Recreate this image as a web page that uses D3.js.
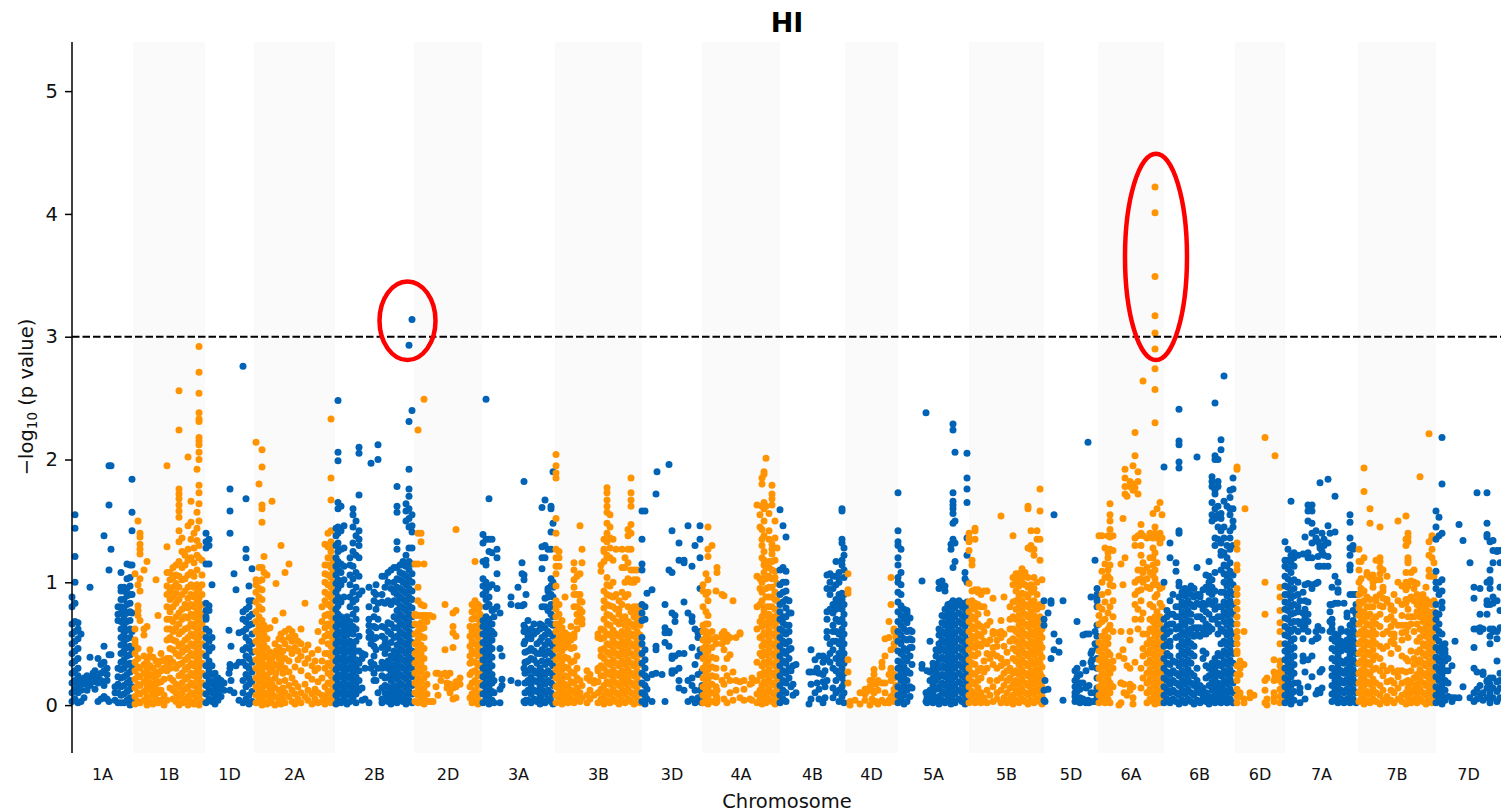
<!DOCTYPE html>
<html><head><meta charset="utf-8"><script src="https://cdnjs.cloudflare.com/ajax/libs/d3/7.8.5/d3.min.js"></script>
<style>html,body{margin:0;padding:0;background:#fff}svg{display:block}text{font-family:"DejaVu Sans",sans-serif;fill:#111}</style></head><body>
<svg id="c" width="1501" height="811"></svg>
<script>
const chromNames=["1A","1B","1D","2A","2B","2D","3A","3B","3D","4A","4B","4D","5A","5B","5D","6A","6B","6D","7A","7B","7D"];
const chromEdges=[0,61,133,182,263,342,410,483,570,630,708,773,826,897,972,1026,1092,1163,1213,1286,1364,1429];
const yTicks=[0,1,2,3,4,5];
const threshold=3;
const chr1A=[[0,[.03,.1,.18,.26,.34,.42,.5,.58,.66,.8,.88]],[3,[.05,.13,.2,.28,.36,.44,.52,.6,.68,.83,1,1.21,1.44,1.55]],[6,[.02,.1,.16,.24,.3,.38,.46,.54,.62,.67]],[9,[.03,.12,.2,.58]],[12,[.06,.17,.22]],[15,[.12,.18,.24]],[18,[.16,.22,.39,.96]],[21,[.19,.26]],[23,[.13,.21,.24,.28]],[26,[.03,.18,.22,.38]],[29,[.05,.2,.26,.33]],[32,[.07,.16,.28,.35,.48,1.38]],[35,[.05,.2,.25,.3]],[37,[.03,.41,1.1,1.63,1.95]],[39,[.41,1.27,1.95]],[43,[.04,.1,.15]],[46,[.02,.1,.17,.23,.3,.69,.74,.8]],[49,[.02,.08,.15,.22,.29,.35,.42,.49,.55,.62,.68,.75,.8,.86,.93,.96,1.08]],[52,[.02,.09,.16,.23,.3,.37,.44,.51,.58,.65,.72,.79,.86,.93,.96]],[55,[.04,.11,.18,.25,.33,.4,.47,.54,.61,.68,.75,.82,.89,.95,1.03,1.15]],[58,[0,.06,.13,.2,.27,.34,.41,.48,.55,.62,.69,.76,.83,.9,.97,1.04,1.14]],[60,[.03,.15,.3,.45,.6,.75,.9,1.14,1.42,1.57,1.84]]];
const chr1B=[[63,[.01,.07,.14,.21,.28,.35,.42,.5,.53,.62,1.07]],[66,[.03,.1,.17,.24,.31,.38,.46,.73,.77,.81,.98,1.5]],[68,[.02,.09,.16,.23,.3,.69,.93,1.03,1.23,1.27,1.31,1.37,1.4]],[72,[.04,.11,.19,.26,.33,.4,.57,.62,1.1]],[75,[0,.07,.15,.22,.29,.36,.64,1.17]],[78,[.03,.12,.18,.25,.32,.45,.4]],[81,[.01,.08,.16,.23,.3,.39]],[84,[.05,.13,.2,.27,.36,1.02]],[86,[.02,.1,.18,.25,.33,.73]],[89,[.04,.12,.19,.28,.36,.42]],[92,[.0,.08,.21,.3,.37]],[95,[.04,.28,.34,.38,.53,.62,.7,.8,.9,.97,1.08,1.29,1.95]],[98,[.14,.22,.3,.38,.46,.55,.62,.7,.76,.86,.93,1.02,1.08]],[101,[.05,.12,.2,.35,.45,.53,.6,.68,.8,.88,.96,1.04,1.12]],[104,[.03,.1,.17,.3,.42,.52,.63,.72,.83,.91,.99,1.06,1.14]],[107,[0,.07,.15,.24,.33,.4,.48,.58,.66,.75,.86,.96,1.05,1.17,1.33,1.42,1.53,1.58,1.63,1.68,1.72,1.76,2.24,2.56]],[110,[.02,.1,.18,.26,.34,.43,.5,.6,.7,.78,.9,1.02,1.12,1.25,1.36]],[113,[.05,.13,.21,.29,.37,.45,.53,.62,.72,.82,.93,1.03,1.14,1.22]],[116,[0,.07,.15,.23,.31,.39,.47,.55,.63,.71,.79,.87,.96,1.06,1.18,1.27,1.46,2.02]],[119,[.03,.1,.18,.26,.34,.42,.5,.58,.66,.74,.82,.9,.98,1.08,1.2,1.35,1.49,1.66]],[122,[.01,.08,.16,.24,.32,.4,.48,.56,.64,.72,.8,.88,.96,1.05,1.16,1.28,1.4]],[125,[.04,.12,.2,.28,.36,.44,.52,.6,.68,.76,.84,.92,.98,1.1,1.22,1.34,1.44,1.57,1.92]],[127,[0,.07,.15,.23,.31,.39,.47,.55,.63,.71,.79,.87,.95,1.2,1.3,1.5,1.64,1.73,1.79,2,2.06,2.12,2.15,2.18,2.31,2.33,2.38,2.54,2.71,2.92]],[130,[.03,.1,.18,.26,.34,.42,.5,.58,.66,.74,.82,.9,.98,1.06,1.18]]];
const chr1D=[[134,[.02,.09,.16,.24,.32,.4,.48,.55,.62,.7,.72,.77,.83,1.15,1.28,1.33,1.4]],[137,[.05,.12,.2,.28,.36,.44,.52,.6,.77,.81,1.15,1.3,1.35]],[140,[.03,.1,.17,.25,.32,.47,.55,.98]],[143,[.01,.07,.14,.2,.26]],[146,[.04,.1,.16,.22]],[149,[.07,.14,.2]],[152,[.12,.18]],[157,[.61,.26]],[158,[.33,.12,.3,1.76,1.58,1.4]],[159,[.48,.2]],[162,[.1,1.07]],[164,[.94,.32]],[167,[.04,.35,.59]],[171,[.02,.1,.2,.35,.45,.6,.7,.76,2.76]],[174,[.05,.15,.25,.32,.4,.47,.55,.62,.68,.78,1.2,1.27,1.68]],[177,[.01,.08,.17,.22,.3,.38,.46,.52,.65,.72,.8,.85,.97]],[180,[.03,.11,.19,.27,.35,.43,.5,.58,.66,.74,.85,1.11]]];
const chr2A=[[184,[.02,.08,.15,.22,.3,.37,.44,.52,.6,.68,.76,.84,.92,.98,1.02,2.14]],[187,[.04,.11,.19,.26,.33,.41,.49,.56,.64,.72,.8,.88,.95,1.01,1.12,1.8]],[190,[0,.07,.14,.22,.29,.37,.45,.53,.61,.69,.78,.86,.94,1.02,1.12,1.49,1.6,1.63,1.94,2.08]],[192,[.03,.1,.18,.25,.33,.41,.49,.57,.65,1.21,1.08]],[195,[.01,.08,.16,.23,.31,.39,.46,.54,.62,1.06]],[198,[.04,.12,.2,.27,.35,.43,.63]],[200,[.02,.09,.17,.3,.38,1.66]],[203,[0,.07,.14,.22,.33,.41,.5,.69]],[204,[.26,.99,.44]],[207,[.04,.12,.19,.3,.38,.47,.54]],[209,[.01,.09,.34,.42,.58,1.3]],[211,[.05,.14,.26,.44,.75,.53]],[213,[.02,.1,.2,.3,.38,.5,.6,1.08]],[217,[.07,.16,.27,.36,.46,.55,.62,1.15]],[220,[.03,.12,.22,.42,.52,.6]],[223,[.01,.09,.18,.31,.47,.56]],[226,[.05,.15,.37,.44,.52]],[229,[.02,.1,.28,.4,.5,.62]],[233,[.07,.17,.34,.45,.83]],[236,[.04,.12,.24,.38,.49]],[240,[.01,.09,.21,.32,.42]],[243,[.05,.13,.28,.36]],[246,[.02,.1,.19,.3,.45,.6]],[250,[.03,.08,.22,.36,.52,.68,.8]],[253,[.01,.07,.15,.3,.42,.56,.63,.73,.85,.92,1.0,1.07,1.14,1.31]],[256,[.04,.11,.18,.26,.34,.42,.5,.58,.66,.74,.82,.9,.98,1.06,1.14,1.2,1.29,1.4]],[259,[.02,.09,.17,.24,.32,.4,.48,.56,.64,.72,.8,.88,.96,1.04,1.12,1.2,1.25,1.33,1.42,1.67,1.85,2.33]],[261,[.05,.13,.21,.29,.37,.45,.53,.61,.69,.77,.85,.93,1.0,1.08,1.16,1.3]]];
const chr2B=[[264,[.01,.08,.15,.22,.29,.36,.43,.5,.57,.64,.71,.78,.85,.92,.99,1.06,1.13,1.2,1.3,1.38,1.44]],[266,[.04,.11,.18,.25,.32,.39,.46,.53,.6,.67,.74,.81,.88,.95,1.02,1.1,1.17,1.25,1.32,1.4,1.45,1.6,1.65,1.99,2.06,2.48]],[269,[.02,.09,.16,.23,.3,.37,.44,.51,.58,.65,.72,.84,.98,1.08,1.15,1.27,1.42,1.62]],[272,[.05,.12,.19,.26,.33,.4,.47,.54,.61,.68,.88,1.02,1.13,1.28,1.46]],[275,[.01,.08,.15,.22,.29,.36,.43,.5,.57,.64,.72]],[278,[.03,.1,.17,.24,.31,.38,.45,.52,.6,.68,.8,.88,.98,1.06,1.14,1.2]],[281,[.06,.13,.2,.27,.34,.41,.48,.58,.64,.74,.84,.92,1.03,1.13,1.25,1.32,1.45,1.55,1.6]],[284,[.02,.09,.16,.23,.3,.37,.44,.52,.62,.7,.78,.86,.96,1.08,1.22,1.38,1.5]],[287,[.12,.2,.28,.34,.44,.56,.9,1.05,1.2,1.3,1.35,1.42,1.71,2.05,2.1]],[290,[.04,.14,.38,.42,.93]],[293,[.05,.3,.41]],[297,[.02,.55,.6,.65,.7,.8,.96]],[299,[.3,.35,.5,.58,1.97]],[302,[.2,.26,.33,.4,.48,.54,.64,.72,.85,.92]],[304,[.2,.45,.55,.63,.78,.9,.98]],[306,[.1,.3,.7,.83,2,2.12]],[310,[.02,.05,.14,.24,.3,.35,.47,.56,.64,.84,.9,1.05]],[313,[.05,.1,.16,.22,.33,.42,.5,.54,.63,.83,.96,1.05]],[316,[.03,.09,.15,.23,.3,.36,.46,.6,.67,.85,1.0,1.08]],[319,[.01,.07,.13,.2,.27,.33,.4,.51,.58,.66,.82,.95,1.1]],[322,[.04,.1,.16,.24,.31,.38,.44,.55,.63,.72,.85,.92,1.0,1.12]],[325,[.02,.08,.14,.21,.28,.35,.42,.49,.56,.63,.7,.77,.84,.9,.96,1.03,1.12,1.27,1.33,1.57,1.62,1.78]],[328,[.05,.11,.18,.25,.32,.39,.46,.53,.6,.67,.74,.81,.88,.95,1.02,1.08,1.14]],[331,[.03,.09,.16,.23,.3,.37,.44,.51,.58,.65,.72,.79,.86,.93,1,1.07,1.14,1.17]],[334,[.01,.07,.14,.21,.28,.35,.42,.49,.56,.63,.7,.77,.84,.91,.98,1.05,1.13,1.22,1.5,1.58,1.64]],[337,[.04,.11,.18,.25,.32,.39,.46,.53,.6,.67,.74,.81,.88,.95,1.02,1.1,1.17,1.28,1.45,1.52,1.6,1.7,1.76,1.92,2.31,2.93]],[340,[.02,.09,.16,.23,.3,.37,.44,.51,.58,.65,.72,.79,.86,.93,1,1.07,1.15,1.28,1.41,1.46,1.55,2.4,3.14]]];
const chr2D=[[343,[.03,.1,.18,.26,.34,.42,.5,.58,.66,.74,.73,1.15]],[346,[.02,.08,.15,.22,.3,.38,.46,.53,.6,.65,.73,.85,.96,1.15,1.4,2.24]],[349,[.04,.11,.19,.27,.34,.42,.49,.56,.62,.67,.73,.82,1.33,1.4]],[352,[.01,.07,.14,.22,.3,.38,.46,.55,.63,.68,.73,.81,1.15,2.49]],[355,[.03,.09,.17,.25,.73,.68]],[358,[.03,.73]],[361,[.03,.72]],[364,[.15,.26]],[366,[.08,.26]],[369,[.2,.25]],[373,[.26,.45,.82]],[375,[.14,.18,.24]],[378,[.1,.17,.26]],[381,[.05,.14,.47,.59,.64,.75]],[384,[.06,.15,.19,.56,.77,1.43]],[388,[.17,.22]],[398,[.06,.15,.25,.34,.4,.48,.56,.64]],[400,[.02,.09,.18,.27,.36,.44,.52,.6,.7,.76,.82]],[403,[.04,.12,.2,.28,.35,.42,.5,.57,.64,.72,.79,.85,1.17]],[406,[.01,.08,.16,.24,.32,.4,.47,.55,.62,.7,.77,.82]],[408,[.03,.1,.18,.26,.34,.42,.5,.58,.66,.74,.8]]];
const chr3A=[[411,[.02,.09,.16,.23,.3,.37,.44,.51,.58,.64,.69,.9,.97,1.03,1.17,1.32,1.39]],[414,[.05,.12,.19,.26,.33,.4,.47,.54,.61,.68,.72,.8,.86,.93,1,1.14,1.18,1.35,2.49]],[417,[.01,.08,.15,.22,.29,.36,.43,.5,.57,.64,.7,.82,.88,.96,1.25,1.35,1.68]],[420,[.04,.11,.18,.25,.32,.39,.46,.53,.6,.66,.77,.98,1.24,1.35]],[422,[.02,.1,.2,.58,.72,.78]],[425,[.95,1.07,1.2,1.27,.8]],[428,[.02,.13,.46,.75]],[430,[.21,.16,.4]],[439,[.2,.88,.82]],[446,[.18,.81,.96]],[450,[.81,1.16,1.07]],[452,[.03,.82,1.06,1.02,1.82]],[454,[.04,.9,.35]],[452,[.3,.5,.6,.65]],[453,[.02,.1,.18,.26,.35,.43,.52,.6,.63]],[456,[.04,.12,.2,.28,.36,.44,.56,.69,.58]],[459,[.02,.09,.16,.23,.3,.38,.46,.54,.62]],[462,[.05,.12,.2,.28,.37,.44,.58,.66,.6]],[465,[.03,.11,.19,.26,.34,.42,.5,.6]],[468,[.01,.07,.15,.22,.3,.42,.52,.62,.66]],[470,[.04,.12,.2,.27,.36,.45,.55,.65,.8,1.11,1.2,1.29,1.61]],[473,[.02,.09,.17,.25,.33,.41,.49,.57,.63,.8,.87,1.2,1.3,1.67]],[476,[.05,.12,.2,.28,.36,.44,.52,.6,.68,.77,.88,.93,.95,1.27]],[479,[.03,.1,.18,.26,.34,.42,.5,.58,.66,.74,.82,.9,.97,1.03,1.41,1.27,1.6,1.62]],[481,[.01,.08,.16,.24,.32,.4,.48,.56,.65,.72,.8,.88,.96,1.0,1.48,1.9]]];
const chr3B=[[484,[.02,.08,.15,.22,.29,.37,.45,.52,.6,.66,.72,.78,.82,.85,.97,1.07,1.13,1.2,1.27,1.4,1.52,1.85,1.89,1.95,2.04]],[487,[.05,.11,.18,.25,.32,.4,.48,.55,.62,.66,.74,.82,1.13,1.2,1.25]],[490,[.01,.08,.14,.21,.29,.36,.44,.51,.57,.63,.69]],[493,[.04,.1,.17,.24,.31,.39,.47,.54,.59,.88]],[496,[.02,.08,.15,.23,.3,.38,.5,.57]],[499,[.05,.12,.19,.27,.35,.46,.53,.64]],[502,[.02,.1,.18,.26,.36,.47,.55,.58,.8,.9,.96,1.02,1.1,1.16]],[505,[.06,.14,.22,.3,.4,.62,.68,.74,.8,.9,1.05]],[508,[.03,.1,.2,.72,.78,.85,.9,1.07,1.46]],[510,[.06,.16,.66,.7,.76,.84,1.27,1.16]],[515,[.02,.08,.22,.28]],[518,[.05,.12,.2,.25]],[522,[.08,.18,.2]],[526,[.02,.1,.19,.28,.3,.58,.55]],[529,[.05,.13,.24,.32,.4,.45,.54,.62,1.14,1.09]],[532,[.01,.08,.16,.24,.3,.38,.46,.55,.61,.7,.79,.85,.93,1.17,1.25,1.27,1.35]],[535,[.04,.11,.19,.27,.35,.43,.5,.58,.66,.74,.82,.9,.98,1.04,1.2,1.22,1.33,1.4,1.48,1.57,1.62,1.67,1.73,1.77]],[538,[.02,.09,.17,.25,.33,.41,.49,.57,.65,.73,.81,.89,.97,1.2,1.28,1.36,1.45,1.55]],[541,[.05,.13,.21,.29,.37,.45,.53,.61,.71,.8,.88,1.0,1.18,1.35]],[544,[.03,.1,.18,.26,.34,.42,.5,.58,.68,.78,.9,1.27]],[547,[.01,.08,.16,.24,.32,.4,.48,.56,.66,.74,.78,.85]],[550,[.04,.12,.2,.28,.36,.44,.52,.6,.7,.82,.92,1.12,1.27]],[553,[.02,.09,.17,.25,.33,.41,.49,.57,.65,.72,.88,1.0,1.12,1.2]],[556,[.05,.13,.21,.29,.37,.45,.53,.61,.68,.8,.9,1.03,1.16,1.27,1.38,1.43]],[559,[.03,.1,.18,.26,.34,.42,.5,.58,.66,.76,1,1.1,1.27,1.4,1.47,1.62,1.67,1.73,1.85]],[562,[.01,.08,.16,.24,.32,.4,.48,.56,.64,.72,.8,1.0,1.02,1.1]],[565,[.04,.12,.2,.28,.36,.44,.52,.6,.68,.76,.8,1.02,1.1]],[568,[.02,.09,.17,.25,.33,.41,.49,.57,.65,.73,.8]]];
const chr3D=[[570,[.03,.1,.18,.26,.34,.42,.5,.55,.69,.75,.82,1.1,1.15,1.35,1.58]],[573,[.01,.08,.16,.24,.3,.37,.45,.7,.8,1.58]],[575,[.05,.13,.22,.91]],[580,[.03,.25,.94]],[584,[.26,.45,.48,1.72]],[585,[1.9]],[590,[.25]],[593,[.03,.51,.59,.63,.82]],[597,[.48,.59,.6,1.96,1.1]],[600,[.26,.28,.38,.4,.75,1.08,1.42]],[603,[.28,.4,.73,.68]],[607,[.2,.14,.3,.42,1.32,1.18]],[612,[.12,.42,1.16,1.18,.84]],[616,[.03,.75,1.46,.2]],[620,[.05,.16,.22,.47,.68,.72,1.13]],[623,[.02,.12,.33,.62,1.3]],[626,[.06,.25,.4,.55,.59]],[628,[.03,.12,.45,.6,.95,1.2,1.35,1.46]],[630,[.02,.08,.16,.28,.4]]];
const chr4A=[[631,[.02,.08,.15,.22,.3,.38,.46,.53,.6,.65,.8,.93,.98]],[634,[.04,.11,.18,.26,.33,.41,.49,.56,.6,.66,.76,.9,1.07]],[636,[.01,.07,.14,.21,.29,.36,.44,.52,.58,.66,.73,.85,.92,1.02,1.21,1.27,1.45]],[640,[.03,.1,.17,.24,.31,.39,.47,.54,.6,1.3]],[644,[.02,.08,.15,.23,.3,.38,.5,.55,.93]],[645,[.12,.03,.06,1.08,1.12]],[650,[.2,.5,.55,.58,.9]],[652,[.05,.17,.3,.45,.6,.89]],[655,[.02,.24,.38,.52,.57]],[658,[.1,.2,.41,.55]],[661,[.04,.27,.85]],[664,[.12,.2,.55]],[668,[.06,.19,.58,.59]],[672,[.04,.13,.2]],[678,[.17,.05]],[680,[.22,.04,.18]],[685,[.02,.09,.2,.35,.62,.8,1.05,1.63]],[688,[.05,.12,.25,.42,.55,.68,.82,.95,1.03,1.45,1.55]],[690,[.01,.08,.16,.24,.32,.4,.48,.56,.64,.72,.85,.92,1.0,1.03,1.2,1.3,1.35,1.43,1.62,1.8,1.85]],[692,[.04,.11,.19,.27,.35,.43,.51,.59,.67,.75,.78,1.08,1.14,1.18,1.25,1.38,1.5,1.6,1.65,1.88,1.9]],[694,[.02,.09,.17,.25,.33,.41,.49,.57,.65,.73,.8,.88,.95,1.03,1.12,2.01,1.62]],[697,[.05,.13,.21,.29,.37,.45,.53,.61,.69,.74,.8,.88,.96,1.05,1.12,1.17,1.35,1.42,1.56]],[700,[.03,.1,.18,.26,.34,.42,.5,.58,.66,.72,.8,.88,.96,1.03,1.1,1.17,1.23,1.27,1.31,1.63,1.68,1.72,1.79]],[703,[.01,.08,.16,.24,.32,.4,.48,.56,.64,.7,.78,.86,.92,1.04,1.09,1.18,1.36,1.5]],[705,[.04,.12,.2,.28,.36,.44,.52,.6,.68,.73,.85,.99,1.28]]];
const chr4B=[[708,[.02,.08,.16,.24,.32,.4,.48,.55,.62,.7,.76,.82,.9,.98,1.1,1.59]],[711,[.05,.12,.2,.28,.36,.44,.52,.6,.67,.72,.84,.92,1,1.12,1.46]],[714,[.03,.1,.18,.26,.34,.42,.5,.58,.65,.72,.79,.86,.93,1.0,1.09,1.37]],[717,[.22,.3,.38,.45,.52,.6,.65,.75,.85]],[719,[.15,.28,.46,.75]],[721,[.08,.17,.32]],[724,[.1,.33]],[737,[.01,.27]],[739,[.45,.27,.17,.05]],[743,[.1,.37,.27]],[745,[.3,.18]],[747,[.05,.13,.26,.4]],[751,[.02,.25,.4,.35,.19]],[753,[.15,.37,.28,.06]],[755,[.2,.38,.95,1.06,.55,.6,.7,.76]],[758,[.35,.42,.5,.78,.9,1.07,1.0]],[761,[.06,.14,.3,.45,.52,.6,.65,.75,.82,1.05,.95]],[764,[.1,.2,.28,.38,.52,.6,.7,.78,.86,.98,1.05,1.17]],[767,[.03,.12,.25,.34,.42,.5,.58,.68,.82,.9,1.0,1.03,1.08]],[770,[.07,.15,.22,.3,.38,.46,.54,.62,.7,.78,.86,.91,1.14,1.18,1.32,1.35,1.58,1.6]],[772,[.02,.1,.18,.26,.34,.42,.5,.58,.66,.74,.82,.9,1.04,1.1,1.22,1.28]]];
const chr4D=[[776,[.18,.27,.37,.94,.91,1.07]],[778,[.0,.03]],[783,[.04]],[788,[.1,.01]],[793,[.09,.13,.04]],[795,[.11]],[798,[.2,.15,.0]],[800,[.2,.05,.12,.18]],[802,[.25,.29]],[802,[.03,.1]],[804,[.17,.03]],[806,[.12,.01,.2]],[810,[.04,.31,.35,.18]],[813,[.4,.1,.02,.18,.54]],[817,[.25,.02,.04,.55,.68]],[819,[.07,.05,.2,.28,.45,1.04,.82,.3]],[822,[.03,.1,.13,.25,.5,.62,.6,.46,.22]],[824,[.06,.16,.55,.57]]];
const chr5A=[[826,[.02,.08,.15,.23,.3,.36,.44,.52,.6,.68,.76,.84,.92,1.0,1.04,1.73,1.14,1.2,1.42,1.33,1.3]],[829,[.05,.12,.2,.27,.34,.42,.5,.57,.65,.73,.81,.9,.98,1.08,1.27]],[832,[.01,.08,.16,.24,.31,.39,.46,.54,.62,.7,.78,.72]],[835,[.03,.12,.2,.28,.36,.44,.53,.6,.67,.75,.77]],[838,[.07,.15,.26,.4,.54,.61,.47,.71]],[840,[.14,.33,.47,.6,.53]],[850,[1.01,.3,.33]],[854,[2.38,.1,.03]],[855,[.1,.02,.06,.28]],[858,[.05,.12,.2,.27,.52]],[861,[.02,.09,.16,.22,.3,.34]],[864,[.05,.13,.2,.26,.33,.4,.45]],[867,[.01,.07,.15,.23,.3,.37,.44,.5,.57,.62,.95,1.0]],[870,[.04,.11,.18,.25,.32,.39,.46,.53,.6,.67,.73,.97,1.01]],[873,[.02,.09,.16,.23,.3,.37,.44,.51,.58,.65,.72,.78,.93,.97]],[876,[.05,.12,.19,.26,.33,.4,.47,.54,.61,.68,.75,.82,.81]],[879,[.01,.08,.15,.22,.29,.36,.43,.5,.57,.64,.71,.78,.83,1.27,1.31]],[881,[.04,.11,.18,.25,.32,.39,.46,.53,.6,.67,.74,.81,.85,1.12,1.35,1.48,1.56,1.6,1.63,1.66,1.73,2.24,2.29]],[883,[.02,.09,.16,.23,.3,.37,.44,.51,.58,.65,.72,.79,.84,1.17,1.32,1.5,2.06]],[887,[.05,.12,.19,.26,.33,.4,.47,.54,.61,.68,.75,.82,.85]],[890,[.03,.1,.17,.24,.31,.38,.45,.52,.59,.66,.73,.8,.83]],[893,[.01,.08,.15,.22,.29,.36,.43,.5,.57,.64,.71,.78,.82,1.08,1.03]],[895,[.04,.11,.18,.25,.32,.39,.46,.53,.6,.67,.74,.81,.84,1.0,1.22,1.36,1.65,1.76,1.85,2.05]]];
const chr5B=[[897,[.02,.08,.15,.22,.3,.37,.45,.52,.6,.68,.76,.84,.99,1.26,1.33,1.36,1.4]],[900,[.05,.11,.19,.26,.34,.41,.49,.56,.64,.72,.8,.85,.93,1.14,1.18]],[903,[.02,.09,.17,.25,.33,.4,.47,.54,.62,.7,.78,.83,.94,1.35,1.42,1.44]],[906,[.06,.14,.2,.28,.42,.5,.58,.66,.74,.82,.94,.92]],[909,[.02,.1,.22,.3,.48,.56,.64,.8,.9]],[912,[.05,.06,.27,.36,.52,.6,.8,.93]],[915,[.02,.12,.3,.42,.5,.65,.75,.93]],[918,[.08,.2,.38,.53,.68]],[921,[.03,.15,.33,.42,.47,.58,.6,.87]],[925,[.05,.1,.2,.3,.4,.48,.53,.59]],[929,[.02,.12,.22,.32,.38,.55,.6,.69,1.54]],[932,[.06,.16,.26,.34,.48,.58,.88]],[935,[.02,.1,.2,.28,.35,.43]],[938,[.05,.14,.22,.3,.52,.62,.7,.8]],[941,[.01,.08,.17,.26,.38,.46,.54,.62,.72,.84,.98,1.04,1.38]],[944,[.04,.12,.2,.28,.36,.44,.52,.6,.7,.78,.85,.93,1.0,1.07]],[947,[.02,.09,.17,.25,.33,.41,.49,.57,.65,.73,.81,.89,.97,1.03,1.07]],[950,[.05,.13,.21,.29,.37,.45,.53,.61,.69,.77,.85,.91,1.0,1.06,1.11]],[953,[.03,.1,.18,.26,.34,.42,.5,.58,.66,.74,.82,.9,.98,1.08,1.05]],[956,[.01,.08,.16,.24,.32,.4,.48,.56,.64,.72,.8,.88,.96,1.04,1.28,1.62,1.6]],[959,[.04,.12,.2,.28,.36,.44,.52,.6,.68,.76,.84,.92,.98,1.27,1.42,1.3]],[962,[.02,.09,.17,.25,.33,.41,.49,.57,.65,.73,.81,.85,.95,1.04,1.27,1.22]],[965,[.05,.13,.21,.29,.37,.45,.53,.61,.69,.78,.9,1.0,1.42,1.35]],[968,[.03,.1,.18,.26,.34,.42,.5,.58,.66,.72,.82,1.18,1.35,1.58,1.76]],[970,[.01,.07,.15,.23,.31,.39,.47,.55,.62,.8,1.02]]];
const chr5D=[[972,[.04,.12,.85,.7,.65]],[973,[.03,.2]],[976,[.13,.75]],[979,[.38,.83,.85]],[982,[.45,1.55,.58]],[987,[.43,.52]],[991,[.85,.04]],[1003,[.03,.28,.2,.15,.1,.07]],[1005,[.3,.23,.17,.11,.04,.68]],[1008,[.06,.25,.18,.13,.02]],[1011,[.03,.57,.34,.05,.18]],[1014,[.28,.14,.02,.58]],[1016,[2.14,.04]],[1017,[.02,.16,.58]],[1019,[.1,.88,.42,.35]],[1020,[.31,.44,.37,.03]],[1023,[.03,.5,.6,.1,1.18]],[1025,[.06,.14,.22,.3,.38,.46,.56,.65,.8,.9,.85,.95,.88]]];
const chr6A=[[1027,[.02,.08,.15,.22,.3,.37,.44,.51,.66,.73,.8,1.38]],[1030,[.05,.12,.19,.26,.34,.41,.48,.56,.68,.78,.9,1.0,1.09,1.38]],[1033,[.02,.09,.16,.24,.31,.38,.46,.53,.6,.7,.84,1.04,1.15,1.28]],[1036,[.05,.13,.21,.28,.35,.43,.5,.55,.62,.75,.92,1.05,1.1,1.2,1.24,1.38]],[1038,[.02,.1,.18,.26,.33,.41,.65,.8,.98,1.03,1.14,1.27,1.37,1.43,1.5,1.55,1.64]],[1041,[.15,.3,.36,.6,.72,.85,.97,1.26,1.38]],[1047,[.0,.4]],[1049,[.18,.18,.02,1.15,.6]],[1052,[.17,.1,.38]],[1051,[.98,1.52,.45]],[1055,[.08,.32,1.7]],[1053,[1.78,1.85,1.92,1.72,1.2]],[1058,[.16,.3,.17,.12,1.78,1.82,.53,.6]],[1061,[.15,.06,.01,1.8,1.75,1.95]],[1063,[.35,1.0,.82,.9,1.77,2.03,2.22,1.3,1.36,.7]],[1066,[1.9,1.82,1.72,1.38,1.1,1.02,.93,.78,.62]],[1069,[.14,.3,.7,.85,.94,1.03,1.1,1.3,1.22,1.4,1.47]],[1071,[.22,.4,.58,.75,.46,1.0,1.08,1.16,1.38,2.64]],[1075,[.02,.1,.18,.26,.34,.42,.5,.58,1.03,1.12,.96,1.36]],[1078,[.05,.13,.21,.29,.37,.45,.53,.62,.7,.82,.95,1.08,1.2,1.37,1.4]],[1081,[.03,.1,.18,.26,.34,.42,.5,.6,.68,.8,.98,1.06,1.14,1.2,1.28,1.36,1.56]],[1083,[.01,.08,.16,.24,.32,.4,.48,.56,.64,.72,.88,1.03,1.1,1.24,1.4,1.45,2.3,2.57,2.74,2.9,3.03,3.17,3.49,4.01,4.22]],[1085,[.05,.12,.2,.28,.36,.44,.52,.6,.68,.76,.9,.98,1.16,1.36,1.6]],[1088,[.02,.09,.17,.25,.33,.41,.49,.57,.65,.72,.83,.95,1.32,1.4,1.65]],[1090,[.04,.12,.2,.28,.36,.44,.52,.6,.7,.8,.96,1.36,1.55]]];
const chr6B=[[1092,[.02,.08,.15,.22,.3,.38,.48,.55,.62,.7,1.0,1.94]],[1095,[.05,.12,.2,.27,.34,.42,.5,.58,.65,.72,.77]],[1098,[.02,.1,.17,.25,.33,.4,.48,.52,.6,.66,.74,.85,1.2,1.32]],[1101,[.05,.12,.2,.28,.36,.66,.74,.9]],[1104,[.03,.1,.18,.26,.35,.55,.62,.72,.8,1.16,1.09]],[1107,[.01,.08,.16,.24,.32,.4,.48,.56,.64,.72,.8,.88,.97,1.0,1.4,1.42,1.93,1.98,2.12,2.15,2.41]],[1110,[.04,.12,.2,.28,.36,.44,.52,.6,.68,.76,.84,.92]],[1113,[.02,.09,.17,.25,.33,.41,.49,.57,.65,.73,.81,.89,.95]],[1116,[.05,.13,.21,.29,.37,.45,.53,.61,.69,.77,.85,.93]],[1119,[.03,.1,.18,.26,.34,.42,.5,.58,.62,.68,.74,.82,.9,.97]],[1122,[.01,.08,.16,.24,.4,.48,.56,.63,.8,.88,.95]],[1125,[.04,.12,.2,.3,.58,.63,.72,.83,.9,2.02,1.12]],[1128,[.02,.1,.16,.56,.63,.72,.82,.88,.9]],[1131,[.06,.14,.38,.44,.58,.62,.7,.78,.83,.94]],[1134,[.03,.1,.22,.32,.42,.58,.66,.76,.82,.96,1.06]],[1137,[.01,.07,.16,.24,.3,.6,.64,.74,.85,.92,1.0,1.05,1.17]],[1140,[.05,.12,.19,.26,.34,.62,.7,.82,.9,.96,1.02,1.5,1.55,1.65,1.78,1.82,1.86]],[1143,[.02,.09,.15,.22,.3,.38,.7,.78,.85,.93,1.08,1.3,1.36,1.52,1.6,1.72,1.75,2.03,2,2.46]],[1146,[.05,.12,.18,.26,.34,.42,.58,.66,.72,.8,1.35,1.45,1.55,1.62,1.78,1.82,2.0]],[1149,[.02,.09,.16,.24,.32,.4,.5,.62,.72,.8,.92,1.1,1.22,1.25,1.32,1.42,1.52,1.56,2.08,2.16]],[1152,[.05,.12,.2,.28,.36,.44,.52,.6,.68,.76,.84,.92,1.0,1.07,1.14,1.24,1.36,1.45,1.66,2.68]],[1155,[.02,.09,.17,.25,.33,.41,.49,.57,.65,.73,.81,.89,.97,1.05,1.13,1.2,1.3,1.62]],[1158,[.05,.13,.21,.29,.37,.45,.53,.61,.69,.77,.85,.93,1.01,1.09,1.16,1.27,1.36,1.42,1.55,1.6,1.75,1.69]],[1161,[.02,.1,.18,.26,.34,.42,.5,.58,.66,.74,.82,.9,.98,1.06,1.3,1.45,1.5,1.6,1.76,1.85]]];
const chr6D=[[1165,[.02,.07,.13,.2,.25,.32,.42,.44,.5,.55,.6,.66,.72,.78,.84,.9,.95,1.1,1.14,1.27,1.32,1.94,1.92]],[1168,[.07,.1,.25,.36,.3]],[1172,[.02,.05,.33,.6]],[1173,[1.6]],[1178,[.06,.1]],[1182,[.08]],[1193,[2.18,.02,.12,.2,.74,1.0]],[1195,[.22,.0,.05]],[1202,[.1,.06,.27,.2,.37,.03]],[1203,[2.03,.23]],[1208,[.02,.07,.13,.2,.25,.36,.5,.6,.67,.77,.88,.96,.27,.32]],[1210,[.03,.1,.18,.25,.3]]];
const chr7A=[[1213,[.02,.08,.15,.22,.3,.37,.44,.5,.57,.64,.71,.78,.84,.9,.97,1.05,1.13,1.18,1.33]],[1216,[.05,.12,.19,.27,.34,.41,.48,.56,.62,.7,.77,.83,.9,.96,1.03,1.11,1.18,1.27]],[1219,[.01,.08,.16,.23,.3,.38,.45,.52,.6,.67,.74,.8,.87,.94,1,1.08,1.16,1.22,1.66]],[1222,[.04,.11,.18,.26,.33,.4,.47,.54,.62,.68,.75,.82,.89,.95,1.02,1.13,1.2,1.24]],[1226,[.18,.6,.68,.76,.8,.9,1.0,1.22]],[1228,[.02,.1,.14,.66,.85]],[1231,[.36,.4,.54,.62,.68,.75,.92,1.23]],[1233,[.27,.05,.64,.72,.78,.85,.98,1.37]],[1236,[.15,.37,.6,.68,.74,.84,.99,1.2,1.24,1.5,1.58,1.63]],[1240,[.23,.4,.52,.98,1.32,1.2,1.4,1.48,1.58,1.63,.95]],[1244,[.09,.6,.54,.99,1.42,1.36,1.34]],[1246,[.12,.55,.64,1.0,1.13,1.21,1.33]],[1248,[.1,.27,1.13,1.3,1.81,1.28]],[1250,[.29,.14,.61,1.25,1.4]],[1252,[1.22,1.13,1.35,1.3]],[1256,[1.84,1.32,1.46,1.21,1.13]],[1258,[1.4,.6,.68,.76,.82]],[1260,[.03,.09,.16,.24,.3,.38,.46,.54,.62,.66,.7,.82,.96]],[1263,[.05,.12,.2,.28,.36,.44,.52,.58,1.05,.83,1.41,1.7]],[1266,[.02,.09,.16,.24,.32,.4,.48,.56,.83,.94,1.0,.92]],[1269,[.05,.12,.2,.28,.36,.44,.52,.6,.62]],[1272,[.02,.1,.18,.26,.34,.46,.5,.83]],[1275,[.05,.13,.21,.29,.37,.45,.53,.6,.72,.75]],[1278,[.02,.09,.17,.25,.33,.41,.49,.57,.65,.9,1.1,1.13,1.22,1.28,1.55,1.49,1.36,1.14]],[1281,[.05,.13,.21,.29,.37,.45,.53,.61,.69,.77,.9,1.27,1.3]],[1284,[.02,.1,.18,.26,.34,.42,.5,.58,.66,.74,.82,.9]]];
const chr7B=[[1287,[.03,.1,.18,.26,.34,.42,.5,.58,.66,.73,.79,.84,.9,1.0,1.1,1.27,1.17]],[1289,[.05,.13,.21,.28,.36,.44,.52,.6,.68,.75,.83,.91,.95,1.03,1.17]],[1292,[.01,.08,.16,.23,.31,.39,.47,.55,.62,.7,.76,.85,.93,1.2,1.74,1.93]],[1295,[.04,.11,.19,.27,.35,.43,.51,.59,.66,.72,.8,.88,1.06,1.08]],[1298,[.02,.09,.17,.25,.33,.41,.49,.57,.65,.74,.8,.86,1.04,1.6,1.48]],[1301,[.05,.13,.21,.29,.37,.45,.53,.61,.69,.8,.96,1.0,1.06]],[1304,[.03,.1,.18,.3,.4,.5,.58,.66,.72,.85,.88,1.02,1.18]],[1308,[.01,.08,.16,.28,.38,.48,.64,.74,.81,.9,1.02,1.07,1.12,1.17,1.2,1.45]],[1311,[.04,.12,.24,.32,.46,.58,.8,.87,.96,1.1,.93]],[1315,[.02,.07,.19,.28,.48,.6,.7,.84,.86,1.05]],[1319,[.04,.12,.2,.3,.42,.52,.58,.64,.72,.78,.81]],[1322,[.02,.1,.18,.27,.5,.55,.58,.68,.77,.9]],[1326,[.05,.14,.23,.28,.46,.65,.85,1.0,1.5]],[1330,[.03,.08,.18,.28,.4,.53,.59,.65,.73,.82,.97]],[1334,[.01,.1,.19,.27,.38,.6,.65,.83,.86,.94,1.0,1.08,1.35,1.3,1.54]],[1336,[.06,.14,.2,.36,.55,.64,.72,.78,.86,.97,1.16,1.18,1.2,1.33,1.37,1.4]],[1339,[.02,.1,.18,.28,.44,.66,.72,.88,1.01,1.08]],[1342,[.05,.13,.22,.33,.38,.6,.72,.85,.95,1.0,1.0,1.1]],[1345,[.02,.09,.17,.25,.34,.43,.52,.66,.76,.82,.9,.99]],[1348,[.05,.13,.21,.29,.37,.45,.55,.62,.72,.8,.86,1.86]],[1351,[.03,.1,.18,.26,.34,.42,.5,.6,.68,.76,.83,.9]],[1354,[.01,.08,.16,.24,.32,.4,.48,.56,.64,.72,.8,.86,.96]],[1357,[.04,.12,.2,.28,.36,.44,.52,.6,.68,.76,.84,1.05,1.1,1.22,1.33,2.21]],[1360,[.02,.09,.17,.25,.33,.41,.49,.57,.65,.73,.82,1.05,1.2,1.27,1.36,1.38]],[1362,[.05,.13,.21,.29,.37,.45,.53,.61,.69,.76,.85,1.05,1.16]]];
const chr7D=[[1364,[.02,.08,.15,.23,.31,.39,.47,.55,.63,.7,.75,.82,.95,1.0,1.09,1.35,1.45,1.58]],[1367,[.05,.12,.2,.28,.36,.44,.52,.6,.66,.74,.9,1.0,1.38,1.53]],[1370,[.01,.08,.16,.24,.32,.4,.48,.58,.79,.84,.93,1.02,1.4,1.8,2.18]],[1373,[.04,.12,.2,.28,.36,.45,.5,.42]],[1376,[.07,.18,.28,.38]],[1380,[.03,.06,.32]],[1383,[.06,.52]],[1387,[.06,1.47]],[1391,[1.34,.15]],[1398,[1.16,.06]],[1402,[.03,.1,.3,.47,.62,.87,.96]],[1405,[.05,.13,.27,.62,1.73]],[1408,[.08,.16,.6,.63,.74,.95]],[1411,[.04,.1,.25,.27,.62]],[1415,[.06,.14,.19,.2,.74,.82,.85,1.0,1.39,1.73,1.48,1.37]],[1418,[.02,.1,.17,.22,.5,.56,.62,.82,.95,1,1.33,1.02,1.1]],[1421,[.06,.14,.22,.62,.6,.83,1.16,1.34,1.26,.88]],[1425,[.03,.11,.19,.36,.54,.6,.85,1.26,1.25]],[1428,[.06,.14,.2,.26,.63,.77,.96,1.26,1.16]]];
const chromData=[chr1A,chr1B,chr1D,chr2A,chr2B,chr2D,chr3A,chr3B,chr3D,chr4A,chr4B,chr4D,chr5A,chr5B,chr5D,chr6A,chr6B,chr6D,chr7A,chr7B,chr7D];
const seriesColors=["#0063b5","#ff9400"];
const highlights=[{x:335.5,y:3.13,rx:28,ry:.32},{x:1084,y:3.65,rx:31,ry:.84}];

const svg=d3.select("#c");
const plotLeft=72,plotRight=1501,plotTop=42,plotBottom=753;
const x=d3.scaleLinear().domain([0,1429]).range([plotLeft,plotRight]);
const y=d3.scaleLinear().domain([-.39,5.4]).range([plotBottom,plotTop]);
svg.append("g").selectAll("rect").data(chromNames.map((n,i)=>i).filter(i=>i%2==1)).join("rect")
 .attr("x",i=>x(chromEdges[i])).attr("width",i=>x(chromEdges[i+1])-x(chromEdges[i]))
 .attr("y",plotTop).attr("height",plotBottom-plotTop).attr("fill","#fafafa");
chromData.forEach((cols,i)=>{
 const pts=cols.flatMap(([p,ys])=>ys.map(v=>[p,v]));
 svg.append("g").attr("class","chr-"+chromNames[i]).selectAll("circle").data(pts).join("circle")
  .attr("cx",d=>x(d[0])).attr("cy",d=>y(d[1])).attr("r",3.5).attr("fill",seriesColors[i%2]);
});
svg.append("line").attr("x1",plotLeft).attr("x2",plotRight).attr("y1",y(threshold)).attr("y2",y(threshold))
 .attr("stroke","#000").attr("stroke-width",2).attr("stroke-dasharray","7.5,3");
svg.append("g").selectAll("ellipse").data(highlights).join("ellipse")
 .attr("cx",d=>x(d.x)).attr("cy",d=>y(d.y)).attr("rx",d=>d.rx).attr("ry",d=>y(0)-y(d.ry))
 .attr("fill","none").attr("stroke","#ff0000").attr("stroke-width",4.5);
const ya=svg.append("g").attr("transform",`translate(${plotLeft},0)`).call(d3.axisLeft(y).tickValues(yTicks).tickSize(7).tickPadding(7).tickFormat(d3.format("d")));
ya.select(".domain").attr("d",`M0,${plotTop}V${plotBottom}`).attr("stroke","#000").attr("stroke-width",1.5);
ya.selectAll(".tick line").attr("stroke","#000").attr("stroke-width",1.5);
ya.selectAll("text").attr("font-size",19.5).style("font-family",'"DejaVu Sans"');
svg.append("g").selectAll("text").data(chromNames).join("text")
 .attr("x",(d,i)=>x((chromEdges[i]+chromEdges[i+1])/2)).attr("y",780).attr("text-anchor","middle").attr("font-size",16).text(d=>d);
svg.append("text").attr("x",787).attr("y",808).attr("text-anchor","middle").attr("font-size",19.5).text("Chromosome");
const yl=svg.append("text").attr("transform","translate(33,397) rotate(-90)").attr("text-anchor","middle").attr("font-size",19.5);
yl.append("tspan").text("−log");
yl.append("tspan").attr("font-size",13.5).attr("dy",4).text("10");
yl.append("tspan").attr("dy",-4).text(" (p value)");
svg.append("text").attr("x",787).attr("y",32).attr("text-anchor","middle").attr("font-size",27).attr("font-weight","bold").style("fill","#000").text("HI");
</script></body></html>
